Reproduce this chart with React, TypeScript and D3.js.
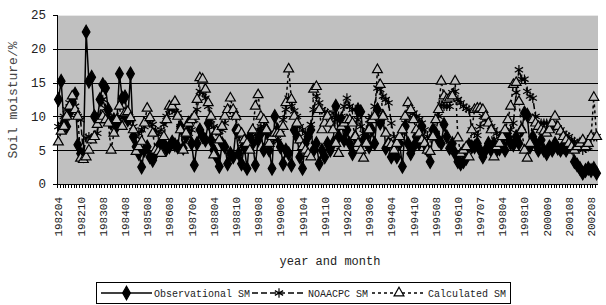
import React from 'react';
import * as d3 from 'd3';

// x axis labels, one every 8 categories
const tickLabels = [
  '198204', '198210', '198308', '198408', '198508', '198608', '198706', '198804', '198810',
  '198908', '199006', '199104', '199110', '199208', '199306', '199404', '199410', '199508',
  '199610', '199707', '199804', '199810', '200009', '200108', '200208',
];
const labelStep = 8;

const observed = [
  12.5, 15.2, 9, 8.5, 10.5, 12, 13.3, 5.8, 4.5, 4.2,
  22.5, 15.2, 15.8, 10, 9.5, 12.5, 14.7, 14.2, 11, 9,
  9.5, 8.5, 16.3, 12.7, 12.9, 9.5, 16.3, 7, 5.5, 4.5,
  2.5, 5, 5.5, 4, 3.5, 4.5, 5.5, 6, 6, 5.2,
  5.5, 6.2, 5.8, 5.5, 8.5, 5.3, 7, 9, 6, 2.8,
  6, 8, 7, 6.5, 9, 6.5, 5, 4, 2.6, 6,
  5.5, 3, 4.5, 4, 8, 4.5, 3, 5.5, 2.3, 7,
  6, 2.8, 6.5, 7.5, 5, 8, 5, 2.3, 10, 8,
  5.5, 3, 5, 4.5, 2.8, 8, 7, 4, 2.3, 6,
  7, 8, 5, 6, 3, 5, 4, 6, 5, 6,
  11.5, 7, 9.5, 6.5, 8, 6, 4.5, 7, 11, 10.7,
  6.5, 7, 5.5, 8, 6, 11, 9, 10, 5.3, 6,
  4, 5.5, 4, 6, 2.6, 8.5, 6, 4.5, 5.5, 7,
  6, 8.5, 6, 5, 3.3, 8, 7.5, 6.5, 6, 8.8,
  7, 5.3, 6, 4.5, 3.3, 3, 3.3, 3.8, 5.8, 5.5,
  5.5, 6, 5, 4, 5, 6, 5, 6, 5, 5.2,
  6, 5, 7, 6, 5.8, 7, 6, 8, 10.5, 10.2,
  5.5, 7, 6, 5, 6.5, 5, 4.5, 5.5, 5, 6,
  5.3, 5, 5.5, 5, 6, 5.5, 3.3, 2.8, 2.3, 1.6,
  2, 2.3, 2, 2.3, 1.6,
];

const noaa = [
  8.5, 8.8, 10, 11, 12, 12.5, 11.5, 10, 9.5, 4.5,
  6.8, 7, 6.8, 7, 7.5, 10.2, 12.5, 11.2, 10.5, 9.8,
  8.5, 9, 9.5, 9.8, 10, 9.5, 9.5, 8.5, 7, 7.5,
  8, 8.5, 9.5, 9, 8.8, 8, 7.3, 8, 8.8, 10,
  11, 11, 10.7, 10.5, 8.5, 8, 7.8, 7.5, 8, 9.5,
  11, 13.7, 13.5, 12.7, 11.5, 9.5, 8.5, 8, 7.8, 8,
  9, 11.2, 11, 10.8, 9.8, 7, 5.5, 6, 6, 6.5,
  7, 7.3, 8, 8.5, 8.5, 7.5, 7, 6.8, 6.5, 6.3,
  7.5, 9.5, 11, 12.7, 11.5, 10.8, 10, 8.5, 8, 7.5,
  7.3, 8.8, 11, 13, 12, 11, 10.7, 10.5, 9, 10.5,
  9.5, 10, 10, 11.5, 12.7, 11.5, 11, 11, 9.5, 8.5,
  7.5, 8, 9.5, 10, 11.5, 14.2, 14, 13, 12.5, 12,
  9, 7, 6, 6.5, 7.5, 9, 10, 11, 10.5, 10,
  9.5, 9, 8, 7, 6.8, 7, 7.5, 10, 11.7, 11.5,
  11.5, 11.5, 13.5, 13.7, 12.5, 12, 11.5, 11.2, 11, 8,
  7.5, 7.2, 8.5, 10, 9.5, 9, 8.5, 8, 7.5, 7,
  6.8, 7, 7.2, 8, 9, 13.5, 16.9, 15.5, 15.5, 13.7,
  13, 12.7, 10, 8.5, 9, 9, 9, 8.8, 8.7, 8.5,
  8.3, 8, 7.5, 7.2, 7, 6.5, 6.3, 6, 5.5, 5,
  5.3, 5.5, 6.8, 7, 7,
];

const calculated = [
  6.2, 7.8, 8.5, 10, 11.5, 13, 11, 10, 3.8, 3.6,
  4, 5, 6.5, 7, 8.8, 9.5, 10, 9.5, 9, 5,
  7.5, 9.5, 11.5, 8.5, 10.5, 10.7, 9.8, 8, 4.8, 5.5,
  6.3, 9, 11.2, 9.8, 7.5, 5, 4.8, 4.5, 7, 9.5,
  11.5, 11.5, 12.2, 10, 8, 5, 7.5, 9, 9.5, 10,
  12.5, 15.7, 15.5, 14, 12, 10, 4.3, 7.8, 6.5, 8.5,
  10, 11, 12.7, 11, 10, 8, 7.5, 6.5, 6, 5,
  8, 11.5, 13.2, 10, 9.5, 8, 6, 7, 7.5, 7.5,
  7.5, 8.5, 12, 17, 12.5, 10, 9, 6.5, 5.5, 5,
  4.5, 4, 14, 14.4, 11, 8, 9, 10, 9, 8,
  6, 4.5, 8.5, 9, 9.5, 9.5, 9, 7, 6, 5,
  3.8, 6, 8, 9.5, 10, 16.9, 14.7, 10, 7.5, 6,
  5.8, 5, 6, 7, 8, 10, 12, 11, 9.5, 8,
  7.5, 6.5, 6, 5, 4.8, 7, 9.5, 11, 15.2, 13,
  12.5, 12.7, 13, 15.2, 6.8, 4.5, 5, 5.5, 4, 8,
  11, 11.2, 11.2, 11, 10, 9, 8, 4, 5.5, 6,
  7, 8, 9.5, 11.5, 14.7, 15, 12.2, 8, 5, 3.8,
  6, 9.5, 9, 8.5, 8, 7.8, 7.5, 8, 9, 10,
  8.5, 7.8, 7, 6.5, 6, 5.5, 5, 5.5, 6, 6.5,
  5.5, 6, 7, 12.8, 7,
];

const yTicks = [0, 5, 10, 15, 20, 25];
const seriesNames = ['Observational SM', 'NOAACPC SM', 'Calculated SM'];

const FONT = "'Liberation Mono', monospace";

const App = () => {
  const width = 606;
  const height = 305;
  const plot = { left: 57, right: 598, top: 15, bottom: 184 };
  const n = observed.length;
  const idx = d3.range(n);

  const x = d3.scalePoint<number>().domain(idx).range([plot.left, plot.right]).padding(0.5);
  const band = d3.scaleBand<number>().domain(idx).range([plot.left, plot.right]);
  const y = d3.scaleLinear().domain([0, 25]).range([plot.bottom, plot.top]);

  const line = d3.line<number>().x((d, i) => x(i)!).y(d => y(d));

  const diamond = d3.symbol().type(d3.symbolDiamond).size(52)()!;
  const star = d3.symbol().type(d3.symbolAsterisk).size(64)()!;
  const tri = d3.symbol().type(d3.symbolTriangle).size(42)()!;

  const series = [
    { name: seriesNames[0], data: observed, dash: null, marker: diamond, fill: '#000' },
    { name: seriesNames[1], data: noaa, dash: '6,3', marker: star, fill: 'none' },
    { name: seriesNames[2], data: calculated, dash: '3,3', marker: tri, fill: '#c0c0c0' },
  ];

  // legend layout
  const legend = { x: 96, y: 282, w: 414, h: 21 };
  const legendItems = [
    { lx: 101, tx: 154 },
    { lx: 252, tx: 308 },
    { lx: 372, tx: 428 },
  ];

  return (
    <div style={{ position: 'absolute', left: 0, top: 0 }}>
      <svg width={width} height={height} style={{ display: 'block', background: '#fff' }}>
        <rect x={plot.left} y={plot.top} width={plot.right - plot.left} height={plot.bottom - plot.top} fill="#c0c0c0" />
        <line x1={plot.left} x2={plot.right} y1={plot.top + 0.5} y2={plot.top + 0.5} stroke="#e8e8e8" />
        {yTicks.filter(t => t > 0 && t < 25).map(t => (
          <line key={t} x1={plot.left} x2={plot.right} y1={Math.round(y(t)) + 0.5} y2={Math.round(y(t)) + 0.5} stroke="#000" />
        ))}

        {/* axes */}
        <line x1={plot.left + 0.5} x2={plot.left + 0.5} y1={plot.top} y2={plot.bottom} stroke="#000" />
        <line x1={plot.left} x2={plot.right} y1={plot.bottom + 0.5} y2={plot.bottom + 0.5} stroke="#000" />
        {idx.map(i => (
          <line key={i} x1={Math.round(band(i)!) + 0.5} x2={Math.round(band(i)!) + 0.5} y1={plot.bottom} y2={plot.bottom + 4} stroke="#000" />
        ))}
        {yTicks.map(t => (
          <g key={t}>
            <line x1={plot.left - 4} x2={plot.left} y1={Math.round(y(t)) + 0.5} y2={Math.round(y(t)) + 0.5} stroke="#000" />
            <text x={46} y={y(t)} dy="0.35em" textAnchor="end" fontFamily={FONT} fontSize={12.5} fill="#222">{t}</text>
          </g>
        ))}
        {tickLabels.map((lab, k) => {
          const xi = x(k * labelStep)!;
          return (
            <text key={lab} transform={`translate(${xi + 4},197) rotate(-90)`} textAnchor="end" fontFamily={FONT} fontSize={11} fill="#222">{lab}</text>
          );
        })}

        <text transform="translate(17,100) rotate(-90)" textAnchor="middle" fontFamily={FONT} fontSize={13} fill="#444">Soil moisture/%</text>
        <text x={330} y={265} textAnchor="middle" fontFamily={FONT} fontSize={12} fill="#222">year and month</text>

        {/* series */}
        {series.map(s => (
          <g key={s.name}>
            <path d={line(s.data)!} fill="none" stroke="#000" strokeWidth={1.5} strokeDasharray={s.dash ?? undefined} />
            {s.data.map((v, i) => (
              <path key={i} d={s.marker} transform={`translate(${x(i)},${y(v)})`} fill={s.fill} stroke="#000" strokeWidth={1.2} />
            ))}
          </g>
        ))}

        {/* legend */}
        <rect x={legend.x + 0.5} y={legend.y + 0.5} width={legend.w} height={legend.h} fill="#fff" stroke="#000" />
        {series.map((s, k) => {
          const it = legendItems[k];
          const cy = legend.y + legend.h / 2 + 0.5;
          return (
            <g key={s.name}>
              <line x1={it.lx} x2={it.tx - 2} y1={cy} y2={cy} stroke="#000" strokeWidth={1.5} strokeDasharray={s.dash ?? undefined} />
              <path d={s.marker} transform={`translate(${(it.lx + it.tx - 2) / 2},${cy})`} fill={s.fill === '#c0c0c0' ? '#fff' : s.fill} stroke="#000" strokeWidth={1.2} />
              <text x={it.tx} y={cy} dy="0.35em" fontFamily={FONT} fontSize={10} fill="#222">{s.name}</text>
            </g>
          );
        })}
      </svg>
    </div>
  );
};

export default App;
